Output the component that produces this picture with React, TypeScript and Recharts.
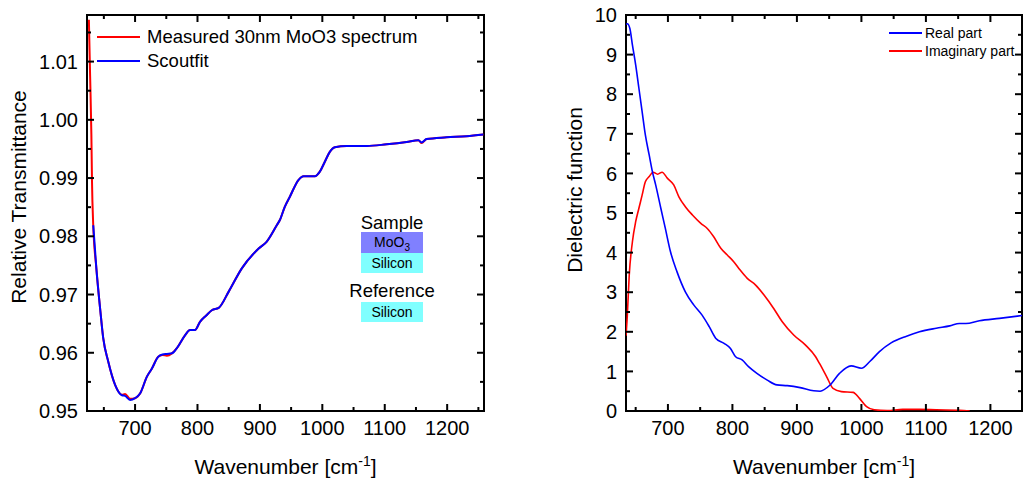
import React from 'react';
import { LineChart, Line, XAxis, YAxis, Legend, ReferenceArea } from 'recharts';

const FONT = '"Liberation Sans", Arial, Helvetica, sans-serif';

// ---------- Left panel: relative transmittance ----------
const fitWavenumbers = [633, 638, 644, 649, 657, 668, 679, 684, 692, 700, 708, 719, 727, 737, 744, 751, 759, 767, 780, 788, 796, 804, 814, 823, 834, 850, 871, 898, 911, 927, 932, 940, 948, 962, 970, 980, 988, 996, 1004, 1012, 1020, 1039, 1071, 1103, 1135, 1154, 1159, 1167, 1199, 1231, 1258];
const fitValues = [0.9819, 0.9745, 0.9676, 0.9625, 0.9585, 0.9545, 0.9527, 0.9526, 0.9519, 0.9522, 0.953, 0.9559, 0.9573, 0.9593, 0.9597, 0.9598, 0.9599, 0.9608, 0.963, 0.9639, 0.9639, 0.9653, 0.9664, 0.9673, 0.9677, 0.9705, 0.9745, 0.9779, 0.9791, 0.9819, 0.9828, 0.9851, 0.9868, 0.9897, 0.9903, 0.9903, 0.9903, 0.9911, 0.9928, 0.9945, 0.9953, 0.9955, 0.9955, 0.9958, 0.9962, 0.9965, 0.9961, 0.9967, 0.997, 0.9972, 0.9975];
const measuredWavenumbers = [626, 628, 630, 631, 633, 638, 644, 649, 657, 668, 679, 684, 692, 700, 708, 719, 727, 737, 744, 751, 759, 767, 780, 788, 796, 804, 814, 823, 834, 850, 871, 898, 911, 927, 932, 940, 948, 962, 970, 980, 988, 996, 1004, 1012, 1020, 1039, 1071, 1103, 1135, 1154, 1159, 1167, 1199, 1231, 1258];
const measuredValues = [1.0172, 1.0075, 0.9975, 0.9895, 0.9819, 0.9745, 0.9676, 0.9625, 0.9585, 0.9545, 0.9528, 0.9529, 0.9521, 0.9522, 0.953, 0.9559, 0.9573, 0.9593, 0.9596, 0.9595, 0.9599, 0.9608, 0.963, 0.9639, 0.9639, 0.9653, 0.9664, 0.9673, 0.9677, 0.9705, 0.9745, 0.9779, 0.9791, 0.9819, 0.9828, 0.9851, 0.9868, 0.9897, 0.9903, 0.9903, 0.9903, 0.9911, 0.9928, 0.9945, 0.9953, 0.9955, 0.9955, 0.9958, 0.9962, 0.9965, 0.996, 0.9967, 0.997, 0.9972, 0.9975];
const leftXDomain: [number, number] = [623, 1259];
const leftYDomain: [number, number] = [0.95, 1.018];
const leftXMajor = [700, 800, 900, 1000, 1100, 1200];
const leftXMinor = [650, 750, 850, 950, 1050, 1150, 1250];
const leftYMajor = [0.95, 0.96, 0.97, 0.98, 0.99, 1.0, 1.01];
const leftYMinor = [0.955, 0.965, 0.975, 0.985, 0.995, 1.005, 1.015];
const leftLegendLabels = ['Measured 30nm MoO3 spectrum', 'Scoutfit'];

// ---------- Right panel: dielectric function ----------
const realWavenumbers = [635, 637, 641, 645, 650, 655, 660, 665, 671, 676, 681, 689, 696, 704, 714, 727, 740, 753, 764, 774, 787, 797, 805, 815, 825, 838, 854, 869, 885, 905, 926, 936, 951, 966, 984, 1000, 1013, 1028, 1046, 1070, 1090, 1116, 1137, 1152, 1162, 1183, 1214, 1249];
const realValues = [9.76, 9.78, 9.66, 9.24, 8.74, 8.15, 7.56, 6.97, 6.46, 6.04, 5.71, 5.12, 4.61, 4.02, 3.52, 3.01, 2.68, 2.42, 2.13, 1.84, 1.71, 1.58, 1.37, 1.29, 1.12, 0.95, 0.78, 0.66, 0.64, 0.59, 0.51, 0.5, 0.65, 0.95, 1.14, 1.08, 1.25, 1.5, 1.72, 1.89, 2.0, 2.09, 2.15, 2.21, 2.21, 2.28, 2.34, 2.41];
const imagWavenumbers = [635, 637, 640, 645, 650, 655, 660, 665, 671, 677, 684, 691, 699, 709, 717, 727, 738, 751, 761, 771, 782, 792, 802, 810, 823, 836, 849, 864, 877, 895, 913, 929, 935, 946, 956, 969, 987, 997, 1008, 1020, 1040, 1064, 1090, 1116, 1152, 1168];
const imagValues = [1.9, 2.4, 3.43, 4.28, 4.78, 5.12, 5.45, 5.79, 5.92, 6.03, 5.98, 6.03, 5.88, 5.71, 5.41, 5.16, 4.95, 4.74, 4.61, 4.4, 4.11, 3.94, 3.77, 3.6, 3.35, 3.18, 2.93, 2.59, 2.26, 1.92, 1.67, 1.37, 1.2, 0.87, 0.57, 0.49, 0.47, 0.32, 0.11, 0.03, 0.01, 0.04, 0.04, 0.03, 0.02, 0.0];
const rightXDomain: [number, number] = [635, 1249];
const rightYDomain: [number, number] = [0, 10];
const rightXMajor = [700, 800, 900, 1000, 1100, 1200];
const rightXMinor = [650, 750, 850, 950, 1050, 1150];
const rightYMajor = [0, 1, 2, 3, 4, 5, 6, 7, 8, 9, 10];
const rightYMinor = [0.5, 1.5, 2.5, 3.5, 4.5, 5.5, 6.5, 7.5, 8.5, 9.5];
const rightLegendLabels = ['Real part', 'Imaginary part'];

const zip = (xs: number[], ys: number[]) => xs.map((x, i) => ({ x, y: ys[i] }));
const measuredData = zip(measuredWavenumbers, measuredValues);
const fitData = zip(fitWavenumbers, fitValues);
const realData = zip(realWavenumbers, realValues);
const imagData = zip(imagWavenumbers, imagValues);

const RED = '#ff0000';
const BLUE = '#0000ff';
const MAJOR_LEN = 7;
const MINOR_LEN = 4;
const X_MARGIN = 10; // gap between plot bottom and tick labels
const Y_MARGIN = 9; // gap between plot left and tick labels
const PLOT_TOP = 15;

const mergeTicks = (a: number[], b: number[]) => [...a, ...b].sort((p, q) => p - q);

// Bottom axis tick: label below, inward tick at bottom and mirrored tick at top.
const makeXTick = (major: number[]) => (props: any) => {
  const { x, y, payload } = props;
  const isMajor = major.includes(payload.value);
  const len = isMajor ? MAJOR_LEN : MINOR_LEN;
  const yb = y - X_MARGIN;
  return (
    <g>
      <line x1={x} x2={x} y1={yb} y2={yb - len} stroke="#000" strokeWidth={2} />
      <line x1={x} x2={x} y1={PLOT_TOP} y2={PLOT_TOP + len} stroke="#000" strokeWidth={2} />
      {isMajor && (
        <text x={x} y={y} dy="0.71em" textAnchor="middle" fontSize={20} fontFamily={FONT} fill="#000">
          {payload.value}
        </text>
      )}
    </g>
  );
};

// Left axis tick: label left, inward tick at left and mirrored tick at right edge.
const makeYTick = (major: number[], plotRight: number, fmt: (v: number) => string) => (props: any) => {
  const { x, y, payload } = props;
  const isMajor = major.some((m) => Math.abs(m - payload.value) < 1e-9);
  const len = isMajor ? MAJOR_LEN : MINOR_LEN;
  const xl = x + Y_MARGIN;
  return (
    <g>
      <line x1={xl} x2={xl + len} y1={y} y2={y} stroke="#000" strokeWidth={2} />
      <line x1={plotRight} x2={plotRight - len} y1={y} y2={y} stroke="#000" strokeWidth={2} />
      {isMajor && (
        <text x={x} y={y} dy="0.355em" textAnchor="end" fontSize={20} fontFamily={FONT} fill="#000">
          {fmt(payload.value)}
        </text>
      )}
    </g>
  );
};

const verticalTitle = (text: string, x: number, y: number) => () => (
  <text x={x} y={y} transform={`rotate(-90 ${x} ${y})`} textAnchor="middle" fontSize={21} fontFamily={FONT} fill="#000">
    {text}
  </text>
);

const wavenumberTitle = (cx: number, baseline: number) => () => (
  <text x={cx} y={baseline} textAnchor="middle" fontSize={21} fontFamily={FONT} fill="#000">
    Wavenumber [cm<tspan dy={-8} fontSize={14}>-1</tspan>
    <tspan dy={8}>]</tspan>
  </text>
);

const makeLegend = (labels: string[], colors: string[], fontSize: number, rowH: number, lineW: number, gap: number) => () => (
  <div style={{ fontFamily: FONT, fontSize, color: '#000', lineHeight: `${rowH}px` }}>
    {labels.map((l, i) => (
      <div key={l} style={{ display: 'flex', alignItems: 'center', height: rowH, whiteSpace: 'nowrap' }}>
        <div style={{ width: lineW, height: 0, borderTop: `2px solid ${colors[i]}`, marginRight: gap }} />
        <span>{l}</span>
      </div>
    ))}
  </div>
);

const boxStyle = (top: number, height: number, bg: string): React.CSSProperties => ({
  position: 'absolute',
  left: 361,
  top,
  width: 62,
  height,
  background: bg,
  fontFamily: FONT,
  fontSize: 14,
  lineHeight: `${height}px`,
  textAlign: 'center',
  color: '#000',
});
const captionStyle = (top: number): React.CSSProperties => ({
  position: 'absolute',
  left: 332,
  top,
  width: 120,
  height: 22,
  fontFamily: FONT,
  fontSize: 18.5,
  lineHeight: '22px',
  textAlign: 'center',
  color: '#000',
});

export default function App() {
  return (
    <div style={{ position: 'absolute', left: 0, top: 0, width: 1023, height: 482, background: '#fff', overflow: 'hidden' }}>
      <div style={{ position: 'absolute', left: 0, top: 0 }}>
        <LineChart width={520} height={482} margin={{ top: PLOT_TOP, right: 36, left: 0, bottom: 0 }}>
          <XAxis
            xAxisId="x"
            dataKey="x"
            type="number"
            domain={leftXDomain}
            allowDataOverflow
            ticks={mergeTicks(leftXMajor, leftXMinor)}
            interval={0}
            height={71}
            tickSize={0}
            tickMargin={X_MARGIN}
            axisLine={false}
            tickLine={false}
            tick={makeXTick(leftXMajor)}
            label={wavenumberTitle(285.5, 474)}
          />
          <YAxis
            yAxisId="y"
            type="number"
            domain={leftYDomain}
            allowDataOverflow
            ticks={mergeTicks(leftYMajor, leftYMinor)}
            interval={0}
            width={87}
            tickSize={0}
            tickMargin={Y_MARGIN}
            axisLine={false}
            tickLine={false}
            tick={makeYTick(leftYMajor, 484, (v) => v.toFixed(2))}
            label={verticalTitle('Relative Transmittance', 25.5, 197)}
          />
          <ReferenceArea
            xAxisId="x"
            yAxisId="y"
            x1={leftXDomain[0]}
            x2={leftXDomain[1]}
            y1={leftYDomain[0]}
            y2={leftYDomain[1]}
            fill="none"
            fillOpacity={0}
            stroke="#000"
            strokeWidth={2}
            ifOverflow="visible"
          />
          <Line xAxisId="x" yAxisId="y" data={measuredData} dataKey="y" name={leftLegendLabels[0]} type="monotone" stroke={RED} strokeWidth={2} dot={false} activeDot={false} isAnimationActive={false} />
          <Line xAxisId="x" yAxisId="y" data={fitData} dataKey="y" name={leftLegendLabels[1]} type="monotone" stroke={BLUE} strokeWidth={2} dot={false} activeDot={false} isAnimationActive={false} />
          <Legend
            layout="vertical"
            align="center"
            verticalAlign="middle"
            wrapperStyle={{ left: 97, top: 25, width: 380, height: 48 }}
            content={makeLegend(leftLegendLabels, [RED, BLUE], 18.5, 24, 43, 7)}
          />
        </LineChart>
      </div>

      <div style={{ position: 'absolute', left: 520, top: 0 }}>
        <LineChart width={503} height={482} margin={{ top: PLOT_TOP, right: 1, left: 0, bottom: 0 }}>
          <XAxis
            xAxisId="x"
            dataKey="x"
            type="number"
            domain={rightXDomain}
            allowDataOverflow
            ticks={mergeTicks(rightXMajor, rightXMinor)}
            interval={0}
            height={71}
            tickSize={0}
            tickMargin={X_MARGIN}
            axisLine={false}
            tickLine={false}
            tick={makeXTick(rightXMajor)}
            label={wavenumberTitle(304, 474)}
          />
          <YAxis
            yAxisId="y"
            type="number"
            domain={rightYDomain}
            allowDataOverflow
            ticks={mergeTicks(rightYMajor, rightYMinor)}
            interval={0}
            width={106}
            tickSize={0}
            tickMargin={Y_MARGIN}
            axisLine={false}
            tickLine={false}
            tick={makeYTick(rightYMajor, 502, (v) => String(v))}
            label={verticalTitle('Dielectric function', 62, 190)}
          />
          <ReferenceArea
            xAxisId="x"
            yAxisId="y"
            x1={rightXDomain[0]}
            x2={rightXDomain[1]}
            y1={rightYDomain[0]}
            y2={rightYDomain[1]}
            fill="none"
            fillOpacity={0}
            stroke="#000"
            strokeWidth={2}
            ifOverflow="visible"
          />
          <Line xAxisId="x" yAxisId="y" data={imagData} dataKey="y" name={rightLegendLabels[1]} type="monotone" stroke={RED} strokeWidth={1.6} dot={false} activeDot={false} isAnimationActive={false} />
          <Line xAxisId="x" yAxisId="y" data={realData} dataKey="y" name={rightLegendLabels[0]} type="monotone" stroke={BLUE} strokeWidth={1.6} dot={false} activeDot={false} isAnimationActive={false} />
          <Legend
            layout="vertical"
            align="center"
            verticalAlign="middle"
            wrapperStyle={{ left: 369, top: 24, width: 130, height: 36 }}
            content={makeLegend(rightLegendLabels, [BLUE, RED], 14, 18, 33, 3)}
          />
        </LineChart>
      </div>

      <div style={captionStyle(212)}>Sample</div>
      <div style={boxStyle(232, 21, '#8080ff')}>
        MoO<sub style={{ fontSize: 10, lineHeight: 0 }}>3</sub>
      </div>
      <div style={boxStyle(253, 20, '#80ffff')}>Silicon</div>
      <div style={captionStyle(280)}>Reference</div>
      <div style={boxStyle(302, 20, '#80ffff')}>Silicon</div>
    </div>
  );
}
